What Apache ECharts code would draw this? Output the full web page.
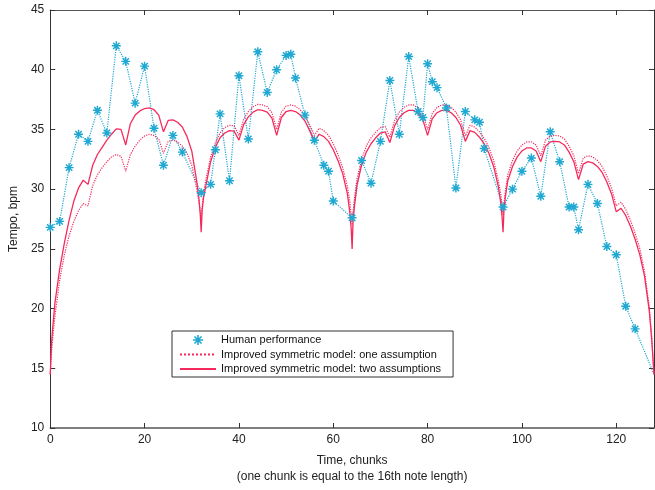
<!DOCTYPE html>
<html>
<head>
<meta charset="utf-8">
<script src="https://cdn.jsdelivr.net/npm/echarts@6/dist/echarts.min.js"></script>
<style>
html,body{margin:0;padding:0;background:#fff;}
#chart{width:655px;height:490px;}
</style>
</head>
<body>
<div id="chart"></div>
<script>
// Human performance (chunk, bpm)
var humanX = [0,2,4,6,8,10,12,14,16,18,20,22,24,26,28,32,34,35,36,38,40,42,44,46,48,50,51,52,54,56,58,59,60,64,66,68,70,72,74,76,78,79,80,81,82,84,86,88,90,91,92,96,98,100,102,104,106,108,110,111,112,114,116,118,120,122,124];
var humanY = [26.8,27.3,31.8,34.6,34.0,36.6,34.7,42.0,40.7,37.2,40.3,35.1,32.0,34.5,33.1,29.7,30.4,33.3,36.3,30.7,39.5,34.2,41.5,38.1,40.0,41.2,41.3,39.3,36.2,34.1,32.0,31.5,29.0,27.6,32.4,30.5,34.0,39.1,34.6,41.1,36.5,36.0,40.5,39.0,38.5,36.8,30.1,36.5,35.8,35.6,33.4,28.5,30.0,31.5,32.6,29.4,34.8,32.3,28.5,28.5,26.6,30.4,28.8,25.2,24.5,20.2,18.3];
// end of the human dotted trace (no marker)
var humanEndX = 128;
var humanEndY = 14.5;

// Model curves sampled positions
var modelX = [0,0.25,0.5,1,2,3,4,5,6,7,8,9,10,11,12,13,14,15,16,17,18,19,20,21,22,23,24,25,26,27,28,29,30,31,31.5,31.8,32,32.2,32.5,33,34,35,36,37,38,39,40,41,42,43,44,45,46,47,48,49,50,51,52,53,54,55,56,57,58,59,60,61,62,63,63.5,63.8,64,64.2,64.5,65,66,67,68,69,70,71,72,73,74,75,76,77,78,79,80,81,82,83,84,85,86,87,88,89,90,91,92,93,94,95,95.5,95.8,96,96.2,96.5,97,98,99,100,101,102,103,104,105,106,107,108,109,110,111,112,113,114,115,116,117,118,119,120,121,122,123,124,125,126,127,127.5,128];
// Improved symmetric model: two assumptions (solid)
var twoAssump = [14.5,17.0,18.3,20.5,23.3,25.5,27.4,29.0,30.1,30.75,30.4,32.0,32.9,33.5,34.1,34.6,35.05,35.0,33.7,35.5,36.2,36.55,36.75,36.8,36.65,36.2,34.8,35.75,35.8,35.6,35.2,34.4,33.2,30.8,29.3,27.9,26.4,28.2,29.3,30.3,32.3,33.5,34.3,34.7,34.9,34.85,34.1,35.4,36.05,36.45,36.65,36.6,36.45,35.95,34.5,36.0,36.5,36.6,36.5,36.2,35.7,34.9,34.0,34.6,34.4,34.0,33.3,32.4,31.3,29.6,28.1,26.7,25.0,27.3,28.6,30.3,32.0,33.1,33.8,34.3,34.7,34.8,33.9,35.3,36.0,36.4,36.6,36.6,36.35,35.8,34.5,35.9,36.4,36.6,36.6,36.4,36.0,35.35,34.0,34.9,34.75,34.35,33.8,33.0,31.9,30.2,28.9,27.6,26.4,28.3,29.4,30.7,31.9,32.7,33.2,33.45,33.45,33.2,32.3,33.6,33.95,34.0,33.95,33.7,33.1,32.3,30.8,32.1,32.3,32.2,31.9,31.4,30.6,29.6,28.1,28.4,27.8,26.9,25.8,24.5,22.7,19.8,17.5,14.5];
// Improved symmetric model: one assumption (dotted)
var oneAssump = [14.5,16.2,17.4,19.4,22.4,24.5,26.1,27.3,28.2,28.8,28.6,30.3,31.2,31.8,32.3,32.7,32.9,32.75,31.5,32.9,33.6,34.1,34.45,34.6,34.5,34.2,33.0,34.0,34.1,33.95,33.6,33.0,32.0,30.1,29.0,28.2,27.5,28.5,29.6,30.8,32.7,33.9,34.7,35.15,35.35,35.3,34.5,35.85,36.5,36.9,37.1,37.05,36.9,36.4,35.0,36.45,36.95,37.05,36.95,36.65,36.15,35.4,34.5,35.1,34.9,34.5,33.8,32.9,31.8,30.2,29.0,27.9,27.0,28.0,29.2,30.8,32.5,33.6,34.3,34.75,35.15,35.25,34.35,35.75,36.45,36.85,37.05,37.05,36.8,36.25,35.0,36.35,36.85,37.05,37.05,36.85,36.45,35.8,34.45,35.35,35.2,34.8,34.25,33.5,32.4,30.7,29.6,28.6,27.8,28.8,29.9,31.2,32.4,33.2,33.7,33.95,33.95,33.7,32.8,34.1,34.45,34.5,34.45,34.2,33.6,32.8,31.3,32.6,32.8,32.7,32.4,31.9,31.1,30.1,28.6,28.9,28.3,27.4,26.3,25.0,23.1,20.1,17.7,14.5];

var xTicks = [0,20,40,60,80,100,120];
var yTicks = [10,15,20,25,30,35,40,45];

var FONT = '"Liberation Sans", Arial, Helvetica, sans-serif';
var BLUE = '#1fa8d2';
var RED = '#f52a5c';

function pairs(xs, ys){ return xs.map(function(x,i){ return [x, ys[i]]; }); }
var humanLine = pairs(humanX, humanY).concat([[humanEndX, humanEndY]]);
var humanPts = pairs(humanX, humanY);

var STAR = 'path://M-5,-0.8L5,-0.8L5,0.8L-5,0.8Z' +
  'M0.8,-5L0.8,5L-0.8,5L-0.8,-5Z' +
  'M-2.97,-4.11L4.11,2.97L2.97,4.11L-4.11,-2.97Z' +
  'M4.11,-2.97L-2.97,4.11L-4.11,2.97L2.97,-4.11Z';

var chart = echarts.init(document.getElementById('chart'), null, {renderer:'canvas'});
var axisCol = '#333';
chart.setOption({
  animation:false,
  backgroundColor:'#fff',
  textStyle:{fontFamily:FONT},
  grid:{left:50, right:1, top:10, bottom:61, containLabel:false},
  xAxis:[{
    type:'value', min:xTicks[0], max:128, interval:xTicks[1]-xTicks[0],
    position:'bottom',
    axisLine:{show:true, onZero:false, lineStyle:{color:'#555', width:1.5}},
    axisTick:{show:true, inside:true, length:5, lineStyle:{color:axisCol}},
    axisLabel:{color:'#222', fontSize:12, fontFamily:FONT, margin:6, showMaxLabel:false},
    splitLine:{show:false},
    name:'Time, chunks\n(one chunk is equal to the 16th note length)',
    nameLocation:'middle', nameGap:25,
    nameTextStyle:{color:'#222', fontSize:12, fontFamily:FONT, lineHeight:16}
  },{
    type:'value', min:xTicks[0], max:128, interval:xTicks[1]-xTicks[0],
    position:'top',
    axisLine:{show:true, onZero:false, lineStyle:{color:'#555', width:1.2}},
    axisTick:{show:true, inside:true, length:5, lineStyle:{color:axisCol}},
    axisLabel:{show:false}, splitLine:{show:false}
  }],
  yAxis:[{
    type:'value', min:yTicks[0], max:yTicks[yTicks.length-1], interval:yTicks[1]-yTicks[0],
    position:'left',
    axisLine:{show:true, onZero:false, lineStyle:{color:axisCol, width:1}},
    axisTick:{show:true, inside:true, length:5, lineStyle:{color:axisCol}},
    axisLabel:{color:'#222', fontSize:12, fontFamily:FONT, margin:6},
    splitLine:{show:false},
    name:'Tempo, bpm', nameLocation:'middle', nameGap:26, nameRotate:90,
    nameTextStyle:{color:'#222', fontSize:12, fontFamily:FONT}
  },{
    type:'value', min:yTicks[0], max:yTicks[yTicks.length-1], interval:yTicks[1]-yTicks[0],
    position:'right',
    axisLine:{show:true, onZero:false, lineStyle:{color:axisCol, width:1}},
    axisTick:{show:true, inside:true, length:5, lineStyle:{color:axisCol}},
    axisLabel:{show:false}, splitLine:{show:false}
  }],
  legend:{
    orient:'vertical', left:172, top:331,
    backgroundColor:'#fff', borderColor:'#333', borderWidth:1,
    padding:[2,12,1,7], itemGap:0.5, itemWidth:36, itemHeight:10,
    textStyle:{fontSize:11, fontFamily:FONT, color:'#111', lineHeight:14},
    data:[
      {name:'Human performance', icon:STAR},
      {name:'Improved symmetric model: one assumption', itemStyle:{opacity:0}},
      {name:'Improved symmetric model: two assumptions', itemStyle:{opacity:0}}
    ]
  },
  series:[
    {
      name:'human-trace', type:'line', data:humanLine, symbol:'none',
      lineStyle:{color:BLUE, width:1.2, type:'dotted'}, z:2, silent:true
    },
    {
      name:'Improved symmetric model: one assumption', type:'line',
      data:pairs(modelX, oneAssump), symbol:'none',
      itemStyle:{color:RED},
      lineStyle:{color:RED, width:1.2, type:'dotted'}, z:3
    },
    {
      name:'Improved symmetric model: two assumptions', type:'line',
      data:pairs(modelX, twoAssump), symbol:'none',
      itemStyle:{color:RED},
      lineStyle:{color:RED, width:1.3, type:'solid'}, z:4
    },
    {
      name:'Human performance', type:'scatter', data:humanPts,
      symbol:STAR, symbolSize:9,
      itemStyle:{color:BLUE, opacity:1}, z:5
    }
  ]
});
</script>
</body>
</html>
